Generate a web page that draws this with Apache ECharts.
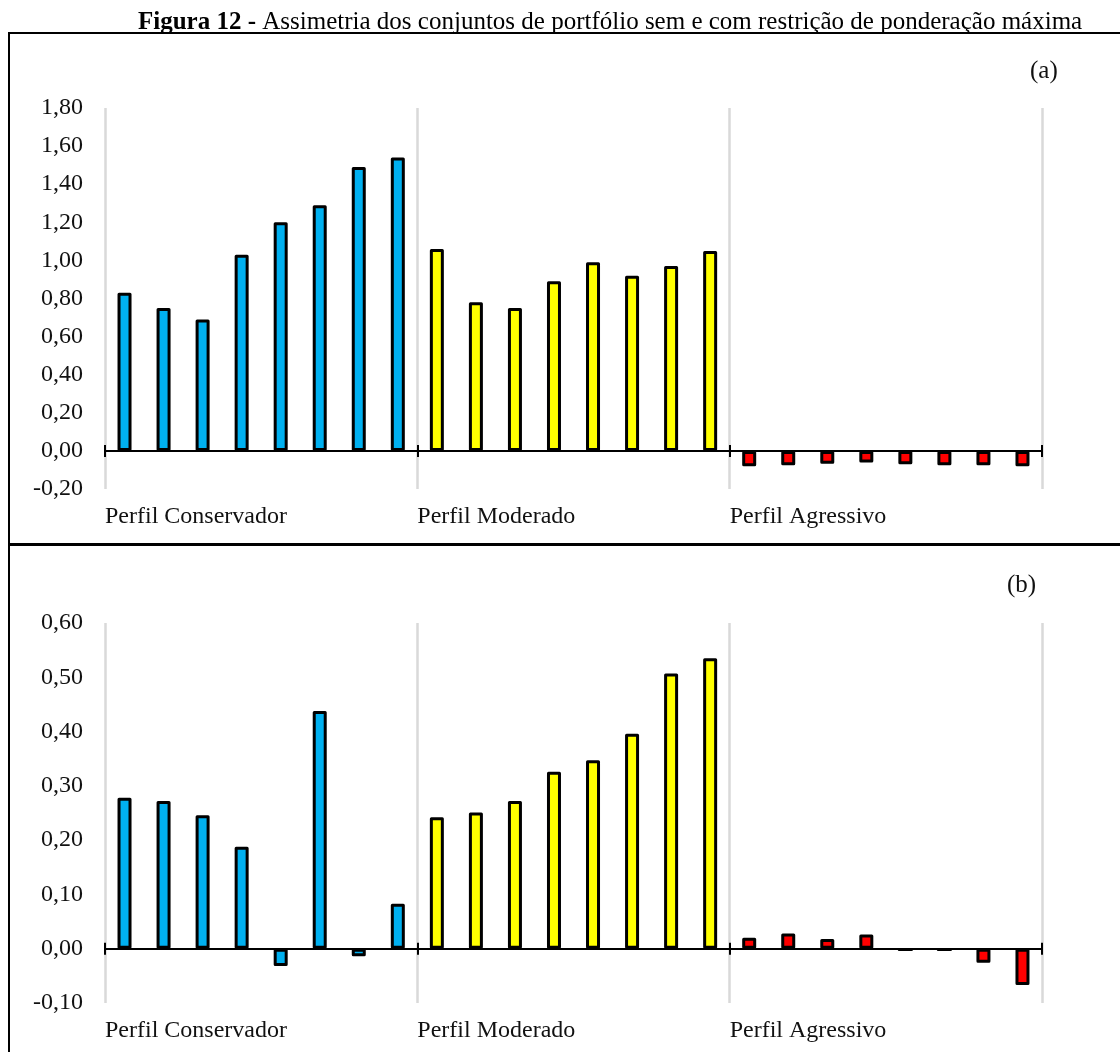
<!DOCTYPE html>
<html>
<head>
<meta charset="utf-8">
<script src="https://cdn.jsdelivr.net/npm/echarts@6/dist/echarts.min.js"></script>
<style>
  html, body { margin: 0; padding: 0; background: #fff; }
  #chart { width: 1120px; height: 1052px; }
</style>
</head>
<body>
<div id="chart"></div>
<script>
const GROUPS = ["Perfil Conservador", "Perfil Moderado", "Perfil Agressivo"];
const GROUP_COLORS = ["#00b0f0", "#ffff00", "#ff0000"];

// (a) sem restrição de ponderação máxima
const conservadorA = [0.83, 0.75, 0.69, 1.03, 1.20, 1.29, 1.49, 1.54];
const moderadoA = [1.06, 0.78, 0.75, 0.89, 0.99, 0.92, 0.97, 1.05];
const agressivoA = [-0.08, -0.075, -0.068, -0.061, -0.07, -0.075, -0.075, -0.08];

// (b) com restrição de ponderação máxima
const conservadorB = [0.278, 0.272, 0.246, 0.188, -0.032, 0.438, -0.014, 0.083];
const moderadoB = [0.242, 0.251, 0.272, 0.326, 0.347, 0.396, 0.507, 0.535];
const agressivoB = [0.02, 0.028, 0.018, 0.026, -0.003, -0.003, -0.026, -0.067];

// y axis ranges per panel: min, max, step
const yRangeA = [-0.2, 1.8, 0.2];
const yRangeB = [-0.1, 0.6, 0.1];

const FONT = "'Liberation Serif', 'Times New Roman', serif";
const TEXT_COLOR = "#111";

const chart = echarts.init(document.getElementById("chart"));

// one category per portfolio (8 per profile)
const cats = [];
for (let i = 0; i < 24; i++) cats.push("p" + i);

const grids = [
  { left: 105, width: 937, top: 108, height: 381 },
  { left: 105, width: 937, top: 623, height: 380 },
];

const xAxes = [];
const yAxes = [];
const series = [];

const tickStyle = { color: "#000", width: 2 };
const everyProfile = (i) => i % 8 === 0;

function addPanel(gridIndex, values, yRange) {
  const base = xAxes.length;

  // zero line with ticks below it
  xAxes.push({
    type: "category",
    gridIndex,
    data: cats,
    position: "bottom",
    axisLine: { onZero: true, onZeroAxisIndex: gridIndex, lineStyle: { color: "#000", width: 2 } },
    axisTick: { show: true, interval: everyProfile, length: 6, lineStyle: tickStyle },
    axisLabel: { show: false },
    splitLine: { show: false },
  });
  // same ticks pointing up, so they cross the zero line
  xAxes.push({
    type: "category",
    gridIndex,
    data: cats,
    position: "bottom",
    axisLine: { show: true, onZero: true, onZeroAxisIndex: gridIndex, lineStyle: { color: "#000", width: 2 } },
    axisTick: { show: true, inside: true, interval: everyProfile, length: 6, lineStyle: tickStyle },
    axisLabel: { show: false },
    splitLine: { show: false },
  });
  // profile separators and names
  xAxes.push({
    type: "value",
    gridIndex,
    min: 0,
    max: 24,
    interval: 8,
    position: "bottom",
    axisLine: { show: false, onZero: false },
    axisTick: { show: false },
    splitLine: { show: true, lineStyle: { color: "#d9d9d9", width: 2.5 } },
    axisLabel: {
      formatter: (v) => GROUPS[v / 8] || "",
      align: "left",
      margin: 16,
      fontFamily: FONT,
      fontSize: 24,
      color: TEXT_COLOR,
    },
  });

  yAxes.push({
    type: "value",
    gridIndex,
    min: yRange[0],
    max: yRange[1],
    interval: yRange[2],
    axisLine: { show: false },
    axisTick: { show: false },
    splitLine: { show: false },
    axisLabel: {
      formatter: (v) => v.toFixed(2).replace(".", ","),
      margin: 22,
      fontFamily: FONT,
      fontSize: 24,
      color: TEXT_COLOR,
    },
  });

  series.push({
    type: "bar",
    xAxisIndex: base,
    yAxisIndex: gridIndex,
    data: values,
    barWidth: 14,
    itemStyle: {
      color: (p) => GROUP_COLORS[Math.floor(p.dataIndex / 8)],
      borderColor: "#000",
      borderWidth: 3,
      borderJoin: "round",
    },
    emphasis: { disabled: true },
  });
}

addPanel(0, [...conservadorA, ...moderadoA, ...agressivoA], yRangeA);
addPanel(1, [...conservadorB, ...moderadoB, ...agressivoB], yRangeB);

const option = {
  animation: false,
  title: [
    {
      text: "{b|Figura 12 -} Assimetria dos conjuntos de portfólio sem e com restrição de ponderação máxima",
      left: 133,
      top: 5,
      textStyle: {
        fontFamily: FONT,
        fontSize: 25,
        fontWeight: "normal",
        color: "#000",
        rich: {
          b: { fontFamily: FONT, fontSize: 25, fontWeight: "bold", color: "#000" },
        },
      },
    },
    { text: "(a)", left: 1025, top: 54, textStyle: { fontFamily: FONT, fontSize: 25, fontWeight: "normal", color: TEXT_COLOR } },
    { text: "(b)", left: 1002, top: 568, textStyle: { fontFamily: FONT, fontSize: 25, fontWeight: "normal", color: TEXT_COLOR } },
  ],
  // panel frames
  graphic: [
    { type: "rect", shape: { x: 9, y: 33, width: 1130, height: 511 }, style: { fill: "none", stroke: "#000", lineWidth: 2 } },
    { type: "rect", shape: { x: 9, y: 545, width: 1130, height: 520 }, style: { fill: "none", stroke: "#000", lineWidth: 2 } },
  ],
  grid: grids,
  xAxis: xAxes,
  yAxis: yAxes,
  series,
};

chart.setOption(option);
</script>
</body>
</html>
